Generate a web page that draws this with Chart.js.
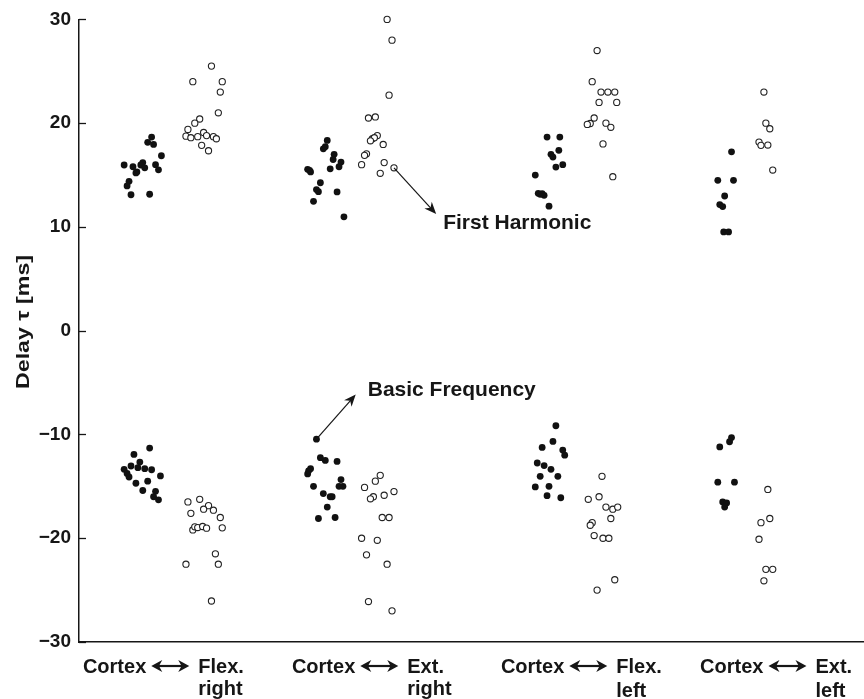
<!DOCTYPE html>
<html>
<head>
<meta charset="utf-8">
<script src="https://cdn.jsdelivr.net/npm/chart.js@4.4.1/dist/chart.umd.min.js"></script>
<style>
  html, body { margin: 0; padding: 0; background: #fff; overflow: hidden; }
  #wrap { width: 864px; height: 699px; }
</style>
</head>
<body>
<div id="wrap"><canvas id="delayChart"></canvas></div>
<script>
// Категории по оси X
const leftWords = ["Cortex", "Cortex", "Cortex", "Cortex"];
const rightWords = ["Flex.", "Ext.", "Flex.", "Ext."];
const sideWords = ["right", "right", "left", "left"];

// Тики оси Y
const yTicks = [-30, -20, -10, 0, 10, 20, 30];

// Первая гармоника: [x, задержка]
const flexRightH1Filled = [[0.74,18.66],[0.70,18.15],[0.76,17.95],[0.84,16.86],[0.46,15.97],[0.55,15.8],[0.65,16.2],[0.63,15.97],[0.59,15.3],[0.67,15.7],[0.78,16.0],[0.81,15.5],[0.51,14.4],[0.49,13.95],[0.53,13.1],[0.72,13.15],[0.58,15.2]];
const flexRightH1Open = [[1.35,25.5],[1.16,24.0],[1.46,24.0],[1.44,23.0],[1.42,21.0],[1.23,20.4],[1.18,20.0],[1.11,19.4],[1.09,18.75],[1.14,18.6],[1.21,18.7],[1.27,19.1],[1.30,18.8],[1.37,18.7],[1.40,18.5],[1.25,17.86],[1.32,17.34]];
const extRightH1Filled = [[2.53,18.34],[2.49,17.53],[2.51,17.73],[2.60,17.0],[2.59,16.5],[2.67,16.25],[2.65,15.8],[2.33,15.55],[2.36,15.3],[2.56,15.6],[2.46,14.26],[2.42,13.6],[2.44,13.4],[2.63,13.37],[2.39,12.47],[2.70,10.97],[2.35,15.46]];
const extRightH1Open = [[3.14,30.0],[3.19,28.0],[3.16,22.7],[2.95,20.5],[3.02,20.6],[3.04,18.8],[2.99,18.5],[3.01,18.6],[2.97,18.3],[3.10,17.95],[2.93,17.05],[2.91,16.9],[2.88,16.0],[3.11,16.2],[3.07,15.17],[3.21,15.7]];
const flexLeftH1Filled = [[4.77,18.66],[4.90,18.66],[4.89,17.38],[4.81,17.0],[4.83,16.73],[4.86,15.77],[4.93,16.0],[4.65,15.0],[4.68,13.24],[4.70,13.14],[4.74,13.05],[4.72,13.2],[4.79,12.0]];
const flexLeftH1Open = [[5.28,27.0],[5.23,24.0],[5.32,23.0],[5.39,23.0],[5.46,23.0],[5.30,22.0],[5.48,22.0],[5.25,20.5],[5.21,19.97],[5.18,19.88],[5.37,20.0],[5.42,19.6],[5.34,18.0],[5.44,14.84]];
const extLeftH1Filled = [[6.65,17.24],[6.51,14.49],[6.67,14.49],[6.58,12.98],[6.53,12.15],[6.56,11.96],[6.57,9.52],[6.62,9.52]];
const extLeftH1Open = [[6.98,23.0],[7.00,20.0],[7.04,19.46],[6.93,18.18],[6.95,17.86],[7.02,17.89],[7.07,15.48]];

// Основная частота: [x, задержка]
const flexRightBasicFilled = [[0.72,-11.31],[0.56,-11.92],[0.62,-12.66],[0.53,-13.04],[0.60,-13.2],[0.67,-13.3],[0.74,-13.4],[0.46,-13.36],[0.49,-13.75],[0.51,-14.1],[0.83,-14.0],[0.58,-14.7],[0.70,-14.5],[0.65,-15.4],[0.78,-15.48],[0.76,-16.0],[0.81,-16.3]];
const flexRightBasicOpen = [[1.11,-16.5],[1.23,-16.25],[1.32,-16.86],[1.37,-17.3],[1.27,-17.2],[1.14,-17.6],[1.44,-18.0],[1.46,-19.0],[1.16,-19.2],[1.18,-18.9],[1.21,-18.97],[1.26,-18.87],[1.30,-19.03],[1.39,-21.5],[1.09,-22.5],[1.42,-22.5],[1.35,-26.05]];
const extRightBasicFilled = [[2.42,-10.45],[2.46,-12.24],[2.51,-12.5],[2.63,-12.6],[2.36,-13.3],[2.33,-13.8],[2.34,-13.5],[2.67,-14.35],[2.39,-15.0],[2.65,-15.0],[2.69,-15.0],[2.49,-15.7],[2.56,-16.0],[2.58,-16.0],[2.53,-17.0],[2.44,-18.1],[2.61,-18.0]];
const extRightBasicOpen = [[3.07,-13.94],[3.02,-14.5],[2.91,-15.1],[3.21,-15.5],[3.11,-15.86],[3.00,-16.0],[2.97,-16.2],[3.09,-18.0],[3.16,-18.0],[2.88,-20.0],[3.04,-20.2],[2.93,-21.6],[3.14,-22.5],[2.95,-26.1],[3.19,-27.0]];
const flexLeftBasicFilled = [[4.86,-9.16],[4.83,-10.67],[4.72,-11.25],[4.93,-11.5],[4.95,-12.0],[4.67,-12.75],[4.74,-13.0],[4.81,-13.36],[4.70,-14.03],[4.88,-14.03],[4.65,-15.06],[4.79,-15.0],[4.77,-15.9],[4.91,-16.1]];
const flexLeftBasicOpen = [[5.33,-14.03],[5.30,-16.0],[5.19,-16.25],[5.37,-17.0],[5.44,-17.2],[5.49,-17.0],[5.42,-18.1],[5.23,-18.5],[5.21,-18.75],[5.25,-19.74],[5.34,-20.0],[5.40,-20.0],[5.46,-24.0],[5.28,-25.0]];
const extLeftBasicFilled = [[6.65,-10.3],[6.63,-10.7],[6.53,-11.2],[6.51,-14.6],[6.68,-14.6],[6.56,-16.5],[6.60,-16.6],[6.58,-17.0]];
const extLeftBasicOpen = [[7.02,-15.3],[7.04,-18.1],[6.95,-18.5],[6.93,-20.1],[7.00,-23.0],[7.07,-23.0],[6.98,-24.1]];

// Подписи-аннотации со стрелками (в координатах данных)
const firstHarmonicArrow = [[3.21, 15.7], [3.64, 11.25]];
const basicFrequencyArrow = [[2.42, -10.45], [2.82, -6.15]];

const filledPoints = [].concat(
  flexRightH1Filled, extRightH1Filled, flexLeftH1Filled, extLeftH1Filled,
  flexRightBasicFilled, extRightBasicFilled, flexLeftBasicFilled, extLeftBasicFilled
).map(([x, y]) => ({ x, y }));

const openPoints = [].concat(
  flexRightH1Open, extRightH1Open, flexLeftH1Open, extLeftH1Open,
  flexRightBasicOpen, extRightBasicOpen, flexLeftBasicOpen, extLeftBasicOpen
).map(([x, y]) => ({ x, y }));

const FONT = '"Liberation Sans", Arial, Helvetica, sans-serif';
const INK = "#161616";

// Стрелка с закрашенным наконечником
function drawArrowHead(ctx, x, y, angle, len, half) {
  ctx.save();
  ctx.translate(x, y);
  ctx.rotate(angle);
  ctx.beginPath();
  ctx.moveTo(0, 0);
  ctx.lineTo(-len, -half);
  ctx.lineTo(-len * 0.7, 0);
  ctx.lineTo(-len, half);
  ctx.closePath();
  ctx.fill();
  ctx.restore();
}

const overlayPlugin = {
  id: "overlay",
  afterDraw(chart) {
    const { ctx, chartArea, scales: { x, y } } = chart;
    ctx.save();
    ctx.fillStyle = INK;
    ctx.strokeStyle = INK;

    // тики оси Y внутрь
    ctx.lineWidth = 1.3;
    yTicks.forEach((v) => {
      const py = Math.round(y.getPixelForValue(v)) + 0.5;
      ctx.beginPath();
      ctx.moveTo(chartArea.left, py);
      ctx.lineTo(chartArea.left + 7, py);
      ctx.stroke();
    });

    // подпись оси Y
    ctx.save();
    ctx.translate(24, 322);
    ctx.rotate(-Math.PI / 2);
    ctx.font = "bold 19px " + FONT;
    const title = "Delay \u03c4 [ms]";
    const w = ctx.measureText(title).width;
    ctx.scale(134 / w, 1);
    ctx.textAlign = "center";
    ctx.textBaseline = "middle";
    ctx.fillText(title, 0, 0);
    ctx.restore();

    // подписи категорий по оси X
    const centers = [0.93, 3.06, 5.19, 7.22];
    ctx.font = "bold 20px " + FONT;
    ctx.textBaseline = "alphabetic";
    centers.forEach((c, i) => {
      const cx = x.getPixelForValue(c);
      ctx.textAlign = "right";
      ctx.fillText(leftWords[i], cx - 24, 673);
      ctx.textAlign = "left";
      ctx.fillText(rightWords[i], cx + 28, 673);
      ctx.fillText(sideWords[i], cx + 28, i < 2 ? 695 : 697);
      // двойная стрелка
      const ay = 666;
      ctx.lineWidth = 2.2;
      ctx.beginPath();
      ctx.moveTo(cx - 14, ay);
      ctx.lineTo(cx + 14, ay);
      ctx.stroke();
      drawArrowHead(ctx, cx + 19, ay, 0, 11, 6);
      drawArrowHead(ctx, cx - 19, ay, Math.PI, 11, 6);
    });

    // аннотации
    ctx.lineWidth = 1.2;
    [[firstHarmonicArrow, "First Harmonic", 7, 15], [basicFrequencyArrow, "Basic Frequency", 12, 1]].forEach(([arr, text, dx, dy]) => {
      const x0 = x.getPixelForValue(arr[0][0]);
      const y0 = y.getPixelForValue(arr[0][1]);
      const x1 = x.getPixelForValue(arr[1][0]);
      const y1 = y.getPixelForValue(arr[1][1]);
      const ang = Math.atan2(y1 - y0, x1 - x0);
      ctx.beginPath();
      ctx.moveTo(x0, y0);
      ctx.lineTo(x1 - 6 * Math.cos(ang), y1 - 6 * Math.sin(ang));
      ctx.stroke();
      drawArrowHead(ctx, x1, y1, ang, 12, 5);
      ctx.font = "bold 21px " + FONT;
      ctx.textAlign = "left";
      ctx.fillText(text, x1 + dx, y1 + dy);
    });

    ctx.restore();
  },
};

new Chart(document.getElementById("delayChart"), {
  type: "scatter",
  data: {
    datasets: [
      {
        label: "filled",
        data: filledPoints,
        pointRadius: 3.4,
        pointHoverRadius: 3.4,
        backgroundColor: "#111",
        borderColor: "#111",
        borderWidth: 0,
        clip: false,
      },
      {
        label: "open",
        data: openPoints,
        pointRadius: 3.1,
        pointHoverRadius: 3.1,
        backgroundColor: "#fff",
        borderColor: "#222",
        borderWidth: 1.1,
        clip: false,
      },
    ],
  },
  options: {
    responsive: true,
    maintainAspectRatio: false,
    animation: false,
    events: [],
    layout: { autoPadding: false, padding: { top: 18, right: 0, left: 0, bottom: 0 } },
    plugins: {
      legend: { display: false },
      tooltip: { enabled: false },
    },
    scales: {
      x: {
        type: "linear",
        min: 0,
        max: 8,
        ticks: { display: false },
        grid: { display: false },
        border: { display: true, color: INK, width: 1.5 },
        afterFit: (s) => { s.height = 57; },
      },
      y: {
        min: -30,
        max: 30,
        afterBuildTicks: (s) => { s.ticks = yTicks.map((v) => ({ value: v })); },
        ticks: {
          padding: 8,
          color: INK,
          font: { family: FONT, size: 19, weight: "bold" },
          callback: (v) => (v < 0 ? "\u2212" + Math.abs(v) : String(v)),
        },
        grid: { display: false, drawTicks: false },
        border: { display: true, color: INK, width: 1.5 },
        afterFit: (s) => { s.width = 79; },
      },
    },
  },
  plugins: [overlayPlugin],
});
</script>
</body>
</html>
